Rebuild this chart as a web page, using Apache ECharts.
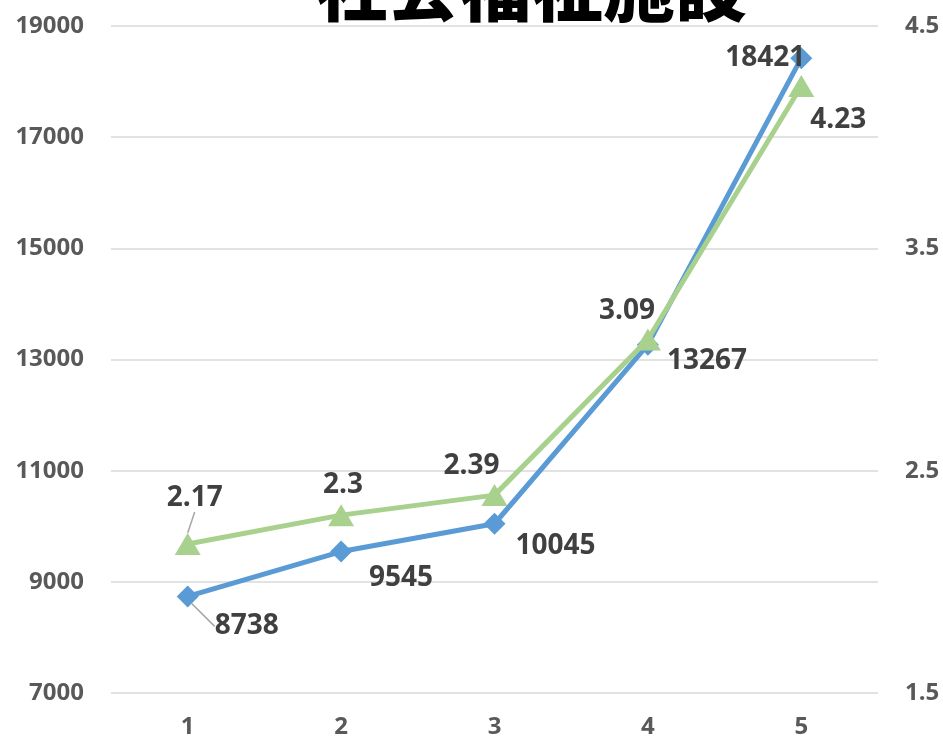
<!DOCTYPE html>
<html>
<head>
<meta charset="utf-8">
<script src="https://cdn.jsdelivr.net/npm/echarts@6/dist/echarts.min.js"></script>
<style>
  html, body { margin: 0; padding: 0; background: #fff; }
  #chart { width: 943px; height: 739px; }
</style>
</head>
<body>
<div id="chart"></div>
<script>
const categories = ["1", "2", "3", "4", "5"];
const countValues = [8738, 9545, 10045, 13267, 18421];
const rateValues = [2.17, 2.3, 2.39, 3.09, 4.23];
const titleText = "社会福祉施設";

// label offsets (px) from each marker
const countOffsets = [[59, 30], [60, 26], [61, 22], [59, 16], [-36, 0]];
const rateOffsets = [[7, -46], [2, -30], [-23, -29], [-21, -28], [37, 34]];
// first point of each series has a leader line in the original
const leaderIdx = 0;

const numFont = "'Open Sans', 'Noto Sans', sans-serif";

function withLabels(values, offsets) {
  return values.map((v, i) => ({
    value: v,
    label: { offset: offsets[i] },
    labelLine: { show: i === leaderIdx, lineStyle: { color: "#a6a6a6", width: 1.5 } }
  }));
}

const chart = echarts.init(document.getElementById("chart"));

const axisText = {
  color: "#595959",
  fontFamily: numFont,
  fontWeight: "bold",
  fontSize: 24
};

const option = {
  backgroundColor: "#fff",
  animation: false,
  title: {
    text: titleText,
    left: 310,
    top: -53,
    textStyle: {
      fontFamily: "'Noto Sans CJK JP'",
      fontWeight: 900,
      fontSize: 72,
      color: "#000"
    }
  },
  grid: { left: 111, right: 65, top: 26, bottom: 45 },
  xAxis: {
    type: "category",
    data: categories,
    boundaryGap: true,
    axisLine: { show: false },
    axisTick: { show: false },
    axisLabel: Object.assign({ margin: 22 }, axisText)
  },
  yAxis: [
    {
      type: "value",
      min: 7000,
      max: 19000,
      interval: 2000,
      axisLine: { show: false },
      axisTick: { show: false },
      splitLine: { lineStyle: { color: "#d9d9d9", width: 1.5 } },
      axisLabel: Object.assign({ margin: 27, formatter: v => String(v) }, axisText)
    },
    {
      type: "value",
      min: 1.5,
      max: 4.5,
      interval: 1,
      axisLine: { show: false },
      axisTick: { show: false },
      splitLine: { show: false },
      axisLabel: Object.assign({ margin: 27 }, axisText)
    }
  ],
  series: [
    {
      name: "件数",
      type: "line",
      yAxisIndex: 0,
      data: withLabels(countValues, countOffsets),
      symbol: "diamond",
      symbolSize: 22,
      color: "#5b9bd5",
      lineStyle: { width: 5, color: "#5b9bd5" },
      itemStyle: { color: "#5b9bd5" },
      z: 2,
      label: {
        show: true,
        position: ["50%", "50%"],
        align: "center",
        verticalAlign: "middle",
        color: "#404040",
        fontFamily: numFont,
        fontWeight: "bold",
        fontSize: 28
      }
    },
    {
      name: "率",
      type: "line",
      yAxisIndex: 1,
      data: withLabels(rateValues, rateOffsets),
      symbol: "triangle",
      symbolSize: [26, 22],
      color: "#a9d18e",
      lineStyle: { width: 5, color: "#a9d18e" },
      itemStyle: { color: "#a9d18e" },
      z: 3,
      label: {
        show: true,
        position: ["50%", "50%"],
        align: "center",
        verticalAlign: "middle",
        color: "#404040",
        fontFamily: numFont,
        fontWeight: "bold",
        fontSize: 28
      }
    }
  ]
};

chart.setOption(option);
window.addEventListener("resize", () => chart.resize());
</script>
</body>
</html>
